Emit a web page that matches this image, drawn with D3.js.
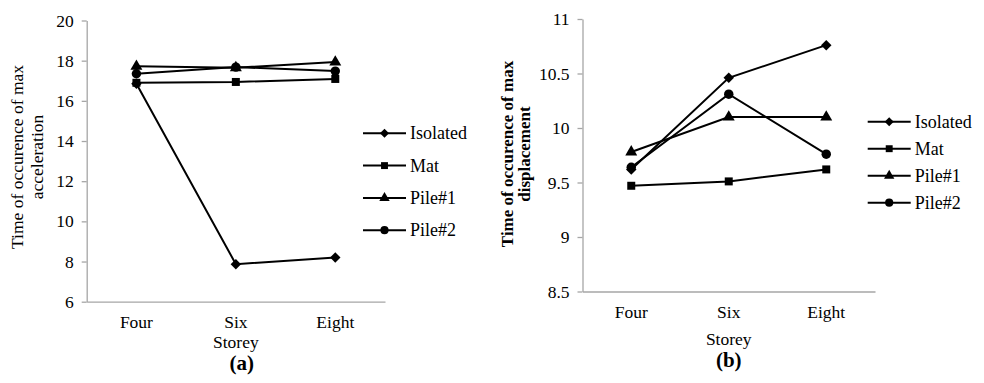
<!DOCTYPE html>
<html>
<head>
<meta charset="utf-8">
<script src="https://cdn.jsdelivr.net/npm/d3@7"></script>
<style>
  body { margin: 0; background: #fff; }
  svg text { font-family: "Liberation Serif", "Times New Roman", serif; fill: #000; }
</style>
</head>
<body>
<script>
//declare data
var storeys = ["Four", "Six", "Eight"];
var seriesNames = ["Isolated", "Mat", "Pile#1", "Pile#2"];
var accIsolated = [16.85, 7.87, 8.2];
var accMat = [16.9, 16.94, 17.09];
var accPile1 = [17.72, 17.65, 17.93];
var accPile2 = [17.35, 17.68, 17.48];
var dispIsolated = [9.62, 10.46, 10.76];
var dispMat = [9.47, 9.51, 9.62];
var dispPile1 = [9.78, 10.1, 10.1];
var dispPile2 = [9.64, 10.31, 9.76];
var accTicks = [6, 8, 10, 12, 14, 16, 18, 20];
var dispTicks = [8.5, 9, 9.5, 10, 10.5, 11];

var markers = [d3.symbolDiamond2, d3.symbolSquare, d3.symbolTriangle, d3.symbolCircle];
var markerSize = [70, 64, 62, 70];

//create svg
var svg = d3.select("body").append("svg")
    .attr("width", 984)
    .attr("height", 383)
    .attr("font-family", "Liberation Serif");

function drawChart(opt) {
    var g = svg.append("g");

    var x = d3.scaleBand().domain(storeys).range([opt.x0, opt.x1]);
    var y = d3.scaleLinear().domain(opt.domain).range([opt.y1, opt.y0]);

    //y axis
    var yAxis = g.append("g")
        .attr("transform", "translate(" + opt.x0 + ",0)")
        .call(d3.axisLeft(y).tickValues(opt.ticks).tickSize(5).tickSizeOuter(0).tickPadding(8)
            .tickFormat(function(d){ return d; }));
    yAxis.attr("font-family", null).attr("font-size", null);
    yAxis.select(".domain").attr("stroke", "#a6a6a6").attr("stroke-width", 1.3);
    yAxis.selectAll(".tick line").attr("stroke", "#a6a6a6").attr("stroke-width", 1.3);
    yAxis.selectAll(".tick text").style("font-size", "17.5px").attr("fill", "#000");

    //x axis
    var xAxis = g.append("g")
        .attr("transform", "translate(0," + opt.y1 + ")")
        .call(d3.axisBottom(x).tickSize(0).tickPadding(opt.xPad));
    xAxis.attr("font-family", null).attr("font-size", null);
    xAxis.select(".domain").attr("stroke", "#a6a6a6").attr("stroke-width", 1.3);
    xAxis.selectAll(".tick text").style("font-size", "17.5px").attr("fill", "#000");

    //axis titles
    var cx = (opt.x0 + opt.x1) / 2;
    g.append("text")
        .attr("x", cx).attr("y", opt.storeyY)
        .attr("text-anchor", "middle")
        .style("font-size", "17.5px")
        .text("Storey");
    g.append("text")
        .attr("x", cx + opt.capDx).attr("y", opt.capY)
        .attr("text-anchor", "middle")
        .style("font-size", "21px").style("font-weight", "bold")
        .text(opt.caption);

    var ty = g.append("text")
        .attr("transform", "translate(" + opt.titleX + "," + opt.titleY + ") rotate(-90)")
        .attr("text-anchor", "middle")
        .style("font-size", opt.titleSize)
        .style("font-weight", opt.titleWeight);
    ty.append("tspan").attr("x", 0).attr("dy", 0).text("Time of occurence of max");
    ty.append("tspan").attr("x", 0).attr("dy", opt.titleGap).text(opt.titleLine2);

    //lines and markers
    var line = d3.line()
        .x(function(d, i){ return x(storeys[i]) + x.bandwidth() / 2; })
        .y(function(d){ return y(d); });

    opt.series.forEach(function(vals, p) {
        g.append("path")
            .attr("fill", "none")
            .attr("stroke", "#000")
            .attr("stroke-width", 2)
            .attr("d", line(vals));
    });
    opt.series.forEach(function(vals, p) {
        g.selectAll("path.m" + p)
            .data(vals)
            .enter().append("path")
            .attr("class", "m" + p)
            .attr("transform", function(d, i){
                return "translate(" + (x(storeys[i]) + x.bandwidth() / 2) + "," + y(d) + ")";
            })
            .attr("d", d3.symbol().type(markers[p]).size(markerSize[p]))
            .attr("fill", "#000");
    });

    //legend
    var lg = g.append("g");
    seriesNames.forEach(function(name, p) {
        var ly = opt.legY + p * opt.legGap;
        lg.append("line")
            .attr("x1", opt.legX).attr("x2", opt.legX + 43)
            .attr("y1", ly).attr("y2", ly)
            .attr("stroke", "#000").attr("stroke-width", 2);
        lg.append("path")
            .attr("transform", "translate(" + (opt.legX + 21.5) + "," + ly + ")")
            .attr("d", d3.symbol().type(markers[p]).size(markerSize[p] * 0.75))
            .attr("fill", "#000");
        lg.append("text")
            .attr("x", opt.legX + 47).attr("y", ly + 6)
            .style("font-size", "18px")
            .text(name);
    });
}

drawChart({
    x0: 86.7, x1: 385, y0: 20.5, y1: 301.7,
    domain: [6, 20], ticks: accTicks,
    series: [accIsolated, accMat, accPile1, accPile2],
    xPad: 14, storeyY: 348, capY: 370, capDx: 6, caption: "(a)",
    titleX: 23, titleY: 157, titleGap: 20, titleSize: "17.5px", titleWeight: "normal", titleLine2: "acceleration",
    legX: 363, legY: 133.3, legGap: 32.3
});

drawChart({
    x0: 582.5, x1: 875, y0: 19, y1: 291.5,
    domain: [8.5, 11], ticks: dispTicks,
    series: [dispIsolated, dispMat, dispPile1, dispPile2],
    xPad: 14, storeyY: 345, capY: 367, capDx: 0, caption: "(b)",
    titleX: 513, titleY: 154, titleGap: 17, titleSize: "17px", titleWeight: "bold", titleLine2: "displacement",
    legX: 867.7, legY: 121.7, legGap: 27
});
</script>
</body>
</html>
